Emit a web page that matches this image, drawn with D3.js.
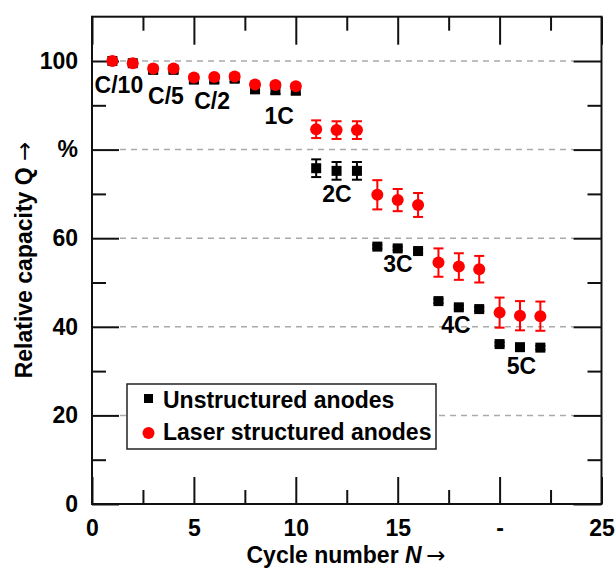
<!DOCTYPE html>
<html>
<head>
<meta charset="utf-8">
<script src="https://cdn.jsdelivr.net/npm/d3@7"></script>
<style>
  body { margin: 0; background: #fff; }
  text { font-family: "Liberation Sans", Arial, sans-serif; font-weight: bold; }
</style>
</head>
<body>
<div id="chart"></div>
<script>
// cycle numbers and relative capacity (%)
const cycles = [1, 2, 3, 4, 5, 6, 7, 8, 9, 10, 11, 12, 13, 14, 15, 16, 17, 18, 19, 20, 21, 22];
const unstructured = [100.0, 99.5, 98.0, 98.0, 95.8, 95.8, 96.0, 93.6, 93.4, 93.3, 75.8, 75.2, 75.2, 58.1, 57.7, 57.1, 45.8, 44.4, 44.0, 36.1, 35.4, 35.3];
const unstructuredErr = [0.4, 0.4, 0.6, 0.6, 0.7, 0.7, 0.7, 0.8, 0.8, 0.8, 2.0, 2.0, 2.0, 0.4, 0.4, 0.4, 0.4, 0.4, 0.4, 0.4, 0.4, 0.4];
const laser = [100.0, 99.5, 98.3, 98.3, 96.3, 96.4, 96.5, 94.7, 94.6, 94.3, 84.6, 84.4, 84.4, 69.8, 68.6, 67.5, 54.5, 53.6, 53.0, 43.2, 42.5, 42.4];
const laserErr = [0.4, 0.4, 0.5, 0.5, 0.5, 0.5, 0.6, 0.6, 0.6, 0.6, 2.0, 2.0, 2.0, 3.3, 2.5, 2.7, 3.2, 3.0, 3.0, 3.4, 3.3, 3.3];

// C-rate labels and where they sit (data units, baseline)
const rateLabels = ["C/10", "C/5", "C/2", "1C", "2C", "3C", "4C", "5C"];
const rateLabelX = [1.32, 3.63, 5.89, 9.18, 12.02, 15.01, 17.86, 21.07];
const rateLabelY = [92.8, 90.3, 89.2, 85.8, 68.2, 52.4, 38.7, 29.3];

// axes
const xMajor = [0, 5, 10, 15, 20, 25];
const xLabels = ["0", "5", "10", "15", "-", "25"];
const xMinor = [2.5, 7.5, 12.5, 17.5, 22.5];
const yMajor = [0, 20, 40, 60, 80, 100];
const yLabels = ["0", "20", "40", "60", "%", "100"];
const yMinor = [10, 30, 50, 70, 90];
const gridVals = [20, 40, 60, 80, 100];

const seriesNames = ["Unstructured anodes", "Laser structured anodes"];

const width = 616, height = 570;
const x = d3.scaleLinear().domain([0, 25]).range([92, 601.5]);
const y = d3.scaleLinear().domain([0, 110]).range([504, 16.7]);

const svg = d3.select("#chart").append("svg")
    .attr("width", width)
    .attr("height", height);

// gridlines
svg.append("g")
    .selectAll("line")
    .data(gridVals)
    .enter().append("line")
    .attr("x1", x(0) + 28)
    .attr("x2", x(25) - 28)
    .attr("y1", d => y(d))
    .attr("y2", d => y(d))
    .attr("stroke", "#aaa")
    .attr("stroke-width", 1.5)
    .attr("stroke-dasharray", "6,5");

function styleAxis(g) {
    g.select(".domain").remove();
    g.attr("font-size", 23).attr("font-family", null);
    g.selectAll("line").attr("stroke", "#111").attr("stroke-width", 2);
    g.selectAll("text").attr("fill", "#000");
}

// bottom
svg.append("g").attr("transform", `translate(0,${y(0)})`)
    .call(d3.axisBottom(x).tickValues(xMajor).tickSize(-27).tickPadding(16)
        .tickFormat((d, i) => xLabels[i]))
    .call(styleAxis);
svg.append("g").attr("transform", `translate(0,${y(0)})`)
    .call(d3.axisBottom(x).tickValues(xMinor).tickSize(-14).tickFormat(""))
    .call(styleAxis);
// top
svg.append("g").attr("transform", `translate(0,${y(110)})`)
    .call(d3.axisTop(x).tickValues(xMajor).tickSize(-28).tickFormat(""))
    .call(styleAxis);
svg.append("g").attr("transform", `translate(0,${y(110)})`)
    .call(d3.axisTop(x).tickValues(xMinor).tickSize(-14).tickFormat(""))
    .call(styleAxis);
// left
svg.append("g").attr("transform", `translate(${x(0)},0)`)
    .call(d3.axisLeft(y).tickValues(yMajor).tickSize(-27).tickPadding(14)
        .tickFormat((d, i) => yLabels[i]))
    .call(styleAxis);
svg.append("g").attr("transform", `translate(${x(0)},0)`)
    .call(d3.axisLeft(y).tickValues(yMinor).tickSize(-14).tickFormat(""))
    .call(styleAxis);
// right
svg.append("g").attr("transform", `translate(${x(25)},0)`)
    .call(d3.axisRight(y).tickValues(yMajor).tickSize(-28).tickFormat(""))
    .call(styleAxis);
svg.append("g").attr("transform", `translate(${x(25)},0)`)
    .call(d3.axisRight(y).tickValues(yMinor).tickSize(-14).tickFormat(""))
    .call(styleAxis);

// frame
svg.append("rect")
    .attr("x", x(0)).attr("y", y(110))
    .attr("width", x(25) - x(0)).attr("height", y(0) - y(110))
    .attr("fill", "none").attr("stroke", "#111").attr("stroke-width", 2);

// series
function errorBars(g, vals, errs, color, cap) {
    const eb = g.append("g").attr("stroke", color).attr("stroke-width", 2);
    cycles.forEach((c, i) => {
        const cx = x(c), lo = y(vals[i] - errs[i]), hi = y(vals[i] + errs[i]);
        eb.append("line").attr("x1", cx).attr("x2", cx).attr("y1", lo).attr("y2", hi);
        eb.append("line").attr("x1", cx - cap).attr("x2", cx + cap).attr("y1", lo).attr("y2", lo);
        eb.append("line").attr("x1", cx - cap).attr("x2", cx + cap).attr("y1", hi).attr("y2", hi);
    });
}

const blackG = svg.append("g");
errorBars(blackG, unstructured, unstructuredErr, "#000", 5);
blackG.selectAll("rect")
    .data(cycles)
    .enter().append("rect")
    .attr("x", d => x(d) - 5)
    .attr("y", (d, i) => y(unstructured[i]) - 5)
    .attr("width", 10)
    .attr("height", 10)
    .attr("fill", "#000");

const redG = svg.append("g");
errorBars(redG, laser, laserErr, "#ff0000", 5);
redG.selectAll("circle")
    .data(cycles)
    .enter().append("circle")
    .attr("cx", d => x(d))
    .attr("cy", (d, i) => y(laser[i]))
    .attr("r", 6)
    .attr("fill", "#ff0000");

// rate labels
svg.append("g")
    .selectAll("text")
    .data(rateLabels)
    .enter().append("text")
    .attr("x", (d, i) => x(rateLabelX[i]))
    .attr("y", (d, i) => y(rateLabelY[i]))
    .attr("text-anchor", "middle")
    .attr("font-size", 23)
    .text(d => d);

// legend
const legend = svg.append("g");
legend.append("rect")
    .attr("x", 127).attr("y", 384)
    .attr("width", 309).attr("height", 65)
    .attr("fill", "#fff").attr("stroke", "#222").attr("stroke-width", 1.5);
legend.append("rect")
    .attr("x", 144).attr("y", 394).attr("width", 9).attr("height", 9)
    .attr("fill", "#000");
legend.append("circle")
    .attr("cx", 148.5).attr("cy", 433).attr("r", 6)
    .attr("fill", "#ff0000");
legend.selectAll("text.lbl")
    .data(seriesNames)
    .enter().append("text")
    .attr("class", "lbl")
    .attr("x", 163)
    .attr("y", (d, i) => 407.5 + i * 32)
    .attr("font-size", 23)
    .text(d => d);

// axis titles (thin long arrows like the original)
const yt = svg.append("text")
    .attr("transform", "translate(32,260) rotate(-90)")
    .attr("text-anchor", "middle")
    .attr("font-size", 23);
yt.append("tspan").text("Relative capacity Q ");
yt.append("tspan")
    .attr("font-weight", "normal")
    .style("font-family", "'DejaVu Sans'")
    .text("\u2192");

const xt = svg.append("text")
    .attr("x", 346).attr("y", 563)
    .attr("text-anchor", "middle")
    .attr("font-size", 23);
xt.append("tspan").text("Cycle number ");
xt.append("tspan").attr("font-style", "italic").text("N");
xt.append("tspan")
    .attr("font-weight", "normal")
    .style("font-family", "'DejaVu Sans'")
    .text("\u2009\u2192");
</script>
</body>
</html>
